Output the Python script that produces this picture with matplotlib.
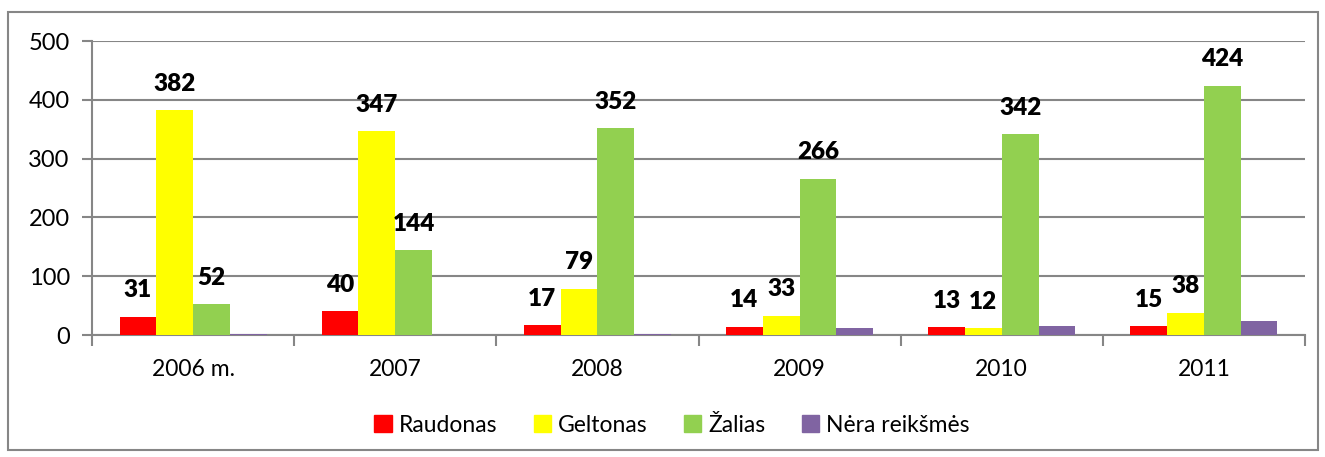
import matplotlib
matplotlib.use("Agg")
import matplotlib.pyplot as plt
import numpy as np
from matplotlib.patches import Rectangle

categories = ["2006 m.", "2007", "2008", "2009", "2010", "2011"]
series_names = ["Raudonas", "Geltonas", "Žalias", "Nėra reikšmės"]
raudonas = [31, 40, 17, 14, 13, 15]
geltonas = [382, 347, 79, 33, 12, 38]
zalias = [52, 144, 352, 266, 342, 424]
nera = [1, 0, 1, 12, 16, 24]
colors = ["#FF0000", "#FFFF00", "#92D050", "#8064A2"]
label_series = [True, True, True, False]

plt.rcParams['font.family'] = ['Lato', 'DejaVu Sans']

fig = plt.figure(figsize=(13.25, 4.57), dpi=100)
ax = fig.add_axes([92/1325, 1-335/457, (1305-92)/1325, (335-41)/457])

data = [raudonas, geltonas, zalias, nera]
n = len(categories)
w = 1/5.5
x = np.arange(n)
for i, (vals, c) in enumerate(zip(data, colors)):
    pos = x - 2*w + w/2 + i*w
    ax.bar(pos, vals, width=w, color=c, label=series_names[i], zorder=3)
    if label_series[i]:
        for p, v in zip(pos, vals):
            ax.annotate(str(v), (p, v), xytext=(0, 11), textcoords="offset points",
                        ha="center", va="bottom", fontsize=17.5, fontweight="heavy")

ax.set_xlim(-0.5, n-0.5)
ax.set_ylim(0, 500)
ax.set_yticks([0, 100, 200, 300, 400, 500])
ax.yaxis.grid(True, color="#868686", linewidth=1.5, zorder=0)
ax.set_xticks(x)
ax.set_xticklabels(categories, fontsize=16.5)
ax.set_xticks(np.arange(n+1)-0.5, minor=True)
ax.tick_params(axis="x", which="major", length=0, pad=17)
ax.tick_params(axis="x", which="minor", length=8, width=1.5, color="#868686")
ax.tick_params(axis="y", length=7, width=1.5, color="#868686", labelsize=17, pad=9)
for s in ["top", "right"]:
    ax.spines[s].set_visible(False)
for s in ["left", "bottom"]:
    ax.spines[s].set_color("#868686")
    ax.spines[s].set_linewidth(1.5)

handles = [Rectangle((0, 0), 1, 1, color=c) for c in colors]
fig.legend(handles, series_names, loc="center", bbox_to_anchor=(672/1325, 1-425/457),
           ncol=4, frameon=False, fontsize=16.5, handlelength=0.75, handleheight=0.75,
           handletextpad=0.3, columnspacing=1.6)

border = Rectangle((8/1325, 1-450/457), (1318-8)/1325, (450-12)/457, transform=fig.transFigure,
                   fill=False, edgecolor="#868686", linewidth=1.5)
fig.patches.append(border)

fig.savefig("out.png", dpi=100)
